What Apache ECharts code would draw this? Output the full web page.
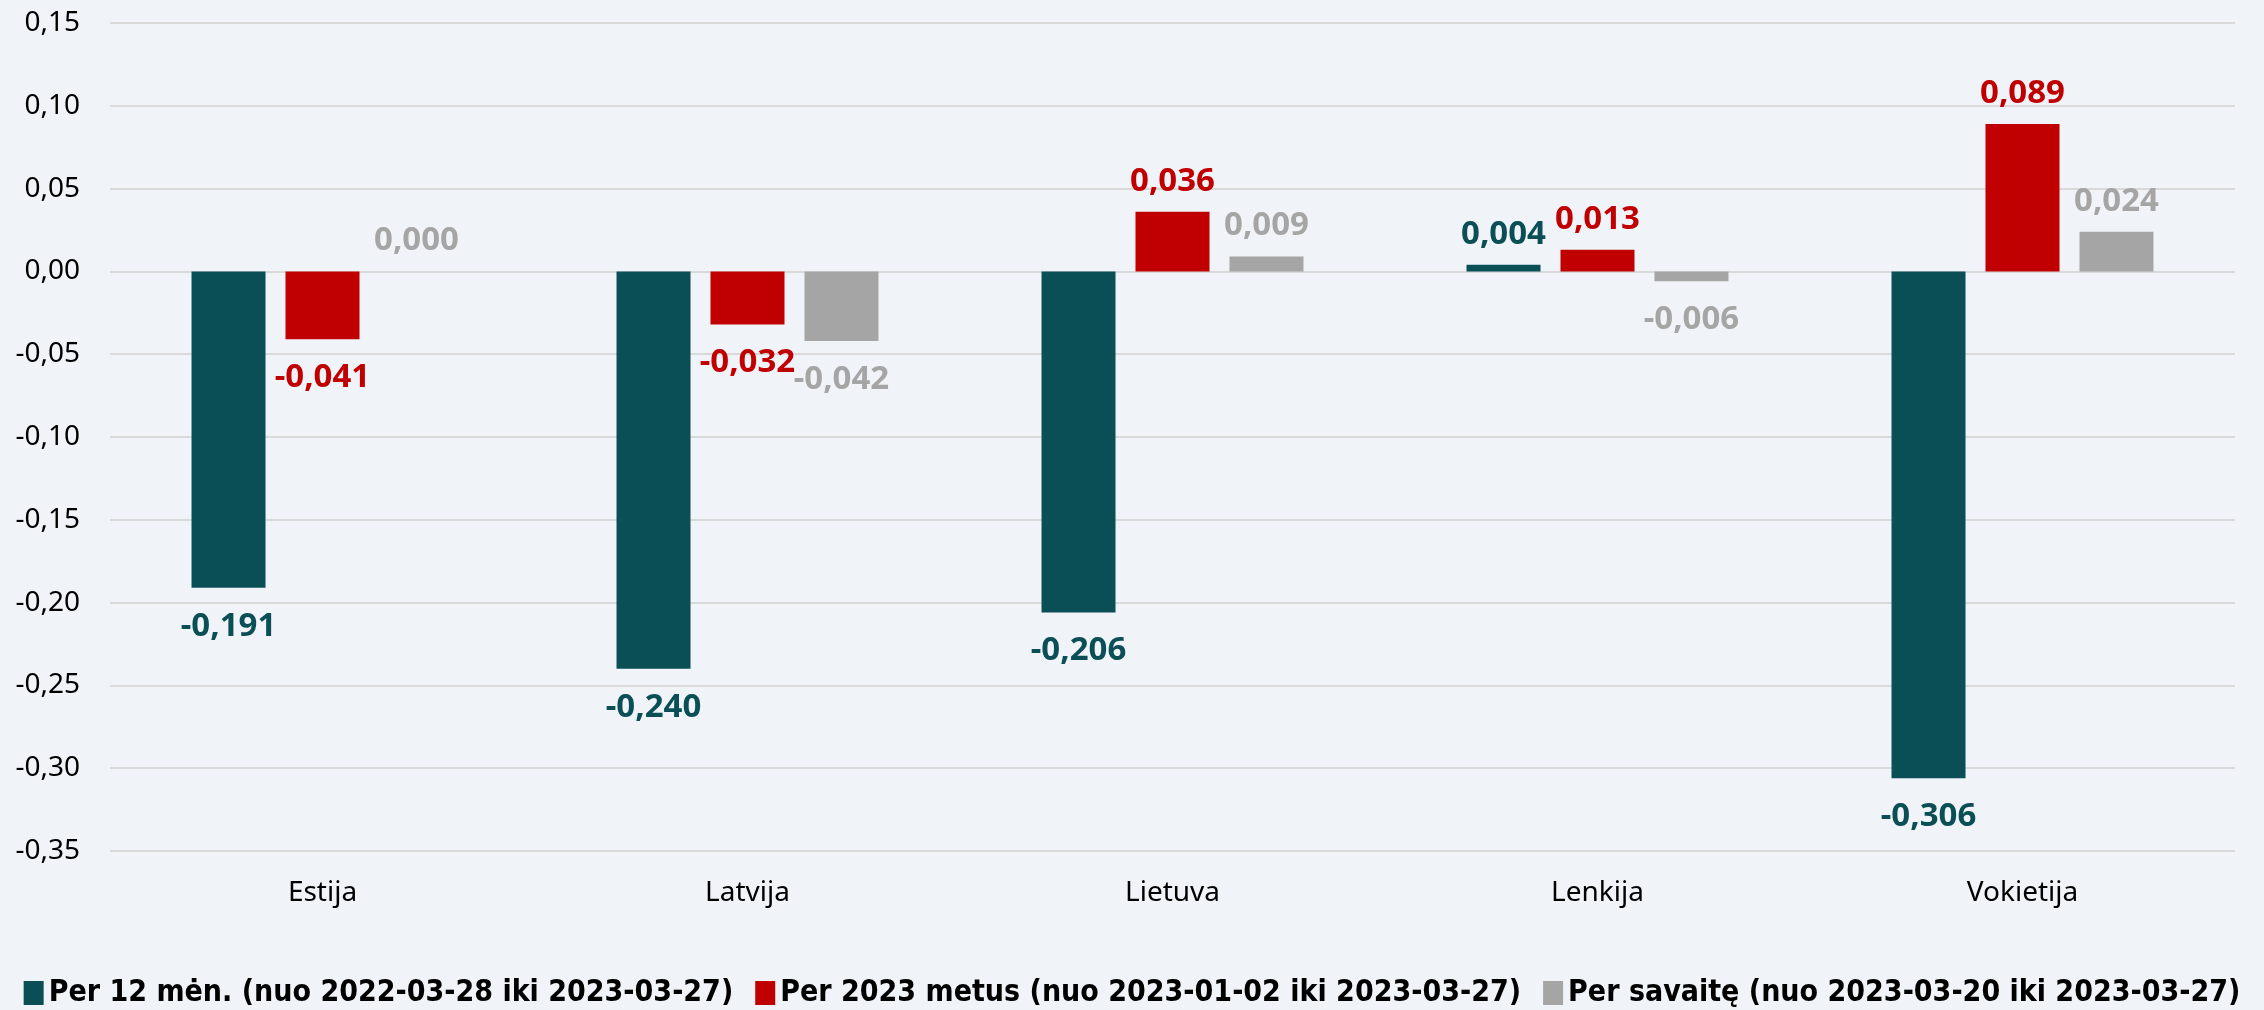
<!DOCTYPE html>
<html>
<head>
<meta charset="utf-8">
<script src="https://cdn.jsdelivr.net/npm/echarts@6/dist/echarts.min.js"></script>
<style>
html,body{margin:0;padding:0;background:#F0F4F8;}
#c{width:2264px;height:1010px;}
</style>
</head>
<body>
<div id="c"></div>
<script>
const categories = ["Estija", "Latvija", "Lietuva", "Lenkija", "Vokietija"];
const seriesNames = [
  "Per 12 mėn. (nuo 2022-03-28 iki 2023-03-27)",
  "Per 2023 metus (nuo 2023-01-02 iki 2023-03-27)",
  "Per savaitę (nuo 2023-03-20 iki 2023-03-27)"
];
const per12men = [-0.191, -0.240, -0.206, 0.004, -0.306];
const per2023 = [-0.041, -0.032, 0.036, 0.013, 0.089];
const perSavaite = [0.000, -0.042, 0.009, -0.006, 0.024];
const colors = ["#0A4F56", "#C00000", "#A5A5A5"];

function fmt(v, d) { return v.toFixed(d).replace('.', ','); }

function makeSeries(name, values, color) {
  return {
    name: name,
    type: 'bar',
    barWidth: 74,
    barGap: '27%',
    itemStyle: { color: color },
    data: values.map(v => ({
      value: v,
      label: {
        show: true,
        position: v < 0 ? 'bottom' : 'top',
        distance: v < 0 ? 22 : 14,
        formatter: p => fmt(p.value, 3),
        color: color,
        fontFamily: 'Noto Sans',
        fontWeight: 'bold',
        fontSize: 33
      }
    }))
  };
}

const chart = echarts.init(document.getElementById('c'));
chart.setOption({
  backgroundColor: '#F0F4F8',
  animation: false,
  grid: { left: 110, right: 29, top: 23, bottom: 159, containLabel: false },
  legend: {
    top: 978,
    left: 'center',
    width: 2260,
    padding: 0,
    itemWidth: 20,
    itemHeight: 24,
    itemGap: 22,
    icon: 'rect',
    textStyle: {
      fontFamily: "'DejaVu Sans Condensed', 'DejaVu Sans'",
      fontWeight: 'bold',
      fontSize: 30,
      color: '#000'
    },
    data: seriesNames
  },
  xAxis: {
    type: 'category',
    data: categories,
    axisLine: { show: false },
    axisTick: { show: false },
    axisLabel: {
      margin: 28,
      fontFamily: 'Noto Sans',
      fontSize: 28,
      color: '#000'
    }
  },
  yAxis: {
    type: 'value',
    min: -0.35,
    max: 0.15,
    interval: 0.05,
    axisLine: { show: false },
    axisTick: { show: false },
    splitLine: { lineStyle: { color: '#D9D9D9', width: 2 } },
    axisLabel: {
      margin: 30,
      fontFamily: 'Noto Sans',
      fontSize: 28,
      color: '#000',
      formatter: v => fmt(v, 2)
    }
  },
  series: [
    makeSeries(seriesNames[0], per12men, colors[0]),
    makeSeries(seriesNames[1], per2023, colors[1]),
    makeSeries(seriesNames[2], perSavaite, colors[2])
  ]
});
</script>
</body>
</html>
